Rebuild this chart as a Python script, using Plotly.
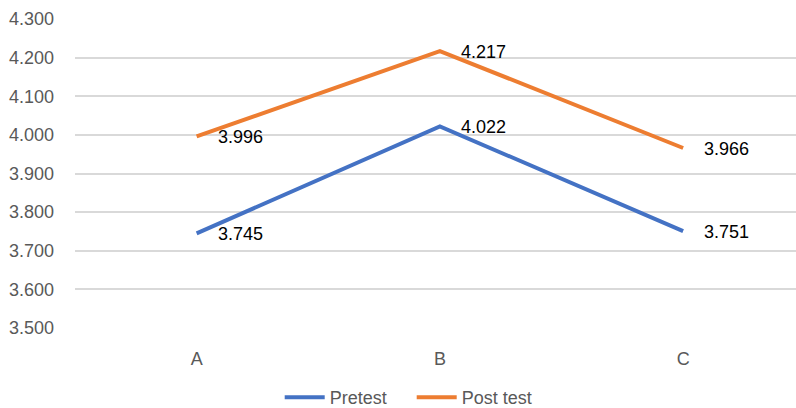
import plotly.graph_objects as go

categories = ["A", "B", "C"]
pretest = [3.745, 4.022, 3.751]
posttest = [3.996, 4.217, 3.966]
y_ticks = [3.5, 3.6, 3.7, 3.8, 3.9, 4.0, 4.1, 4.2, 4.3]
y_tick_labels = [f"{v:.3f}" for v in y_ticks]

FONT = "Liberation Sans, Arial, sans-serif"
BLUE = "#4472C4"
ORANGE = "#ED7D31"

fig = go.Figure()
fig.add_trace(go.Scatter(x=categories, y=pretest, mode="lines", name="Pretest",
                         line=dict(color=BLUE, width=4)))
fig.add_trace(go.Scatter(x=categories, y=posttest, mode="lines", name="Post test",
                         line=dict(color=ORANGE, width=4)))

for series in (pretest, posttest):
    for c, v in zip(categories, series):
        fig.add_annotation(x=c, y=v, xref="x", yref="y", text=f"{v:.3f}",
                           showarrow=False, xanchor="left", yanchor="middle",
                           xshift=19, yshift=-1, font=dict(family=FONT, size=18, color="#000000"))

fig.update_layout(
    width=796, height=408,
    margin=dict(l=75, r=0, t=19, b=80, autoexpand=False),
    paper_bgcolor="white", plot_bgcolor="white",
    font=dict(family=FONT, size=18, color="#595959"),
    showlegend=True,
    legend=dict(orientation="h", x=0.467, xanchor="center", y=-0.225, yanchor="middle",
                font=dict(family=FONT, size=18, color="#595959"), itemwidth=40,
                entrywidth=77),
    xaxis=dict(range=[-0.5, 2.464], showgrid=False, zeroline=False, showline=False,
               automargin=False,
               ticks="", ticklabelstandoff=18, tickfont=dict(size=18, color="#595959")),
    yaxis=dict(range=[3.5, 4.3], tickvals=y_ticks, ticktext=y_tick_labels,
               automargin=False,
               showgrid=True, gridcolor="#D9D9D9", gridwidth=1.5, zeroline=False,
               showline=False, ticks="", ticklabelstandoff=20,
               tickfont=dict(size=18, color="#595959")),
)

fig.write_html("out.html", config={"displayModeBar": False},
               post_script="document.body.style.margin='0';document.body.style.overflow='hidden';")
